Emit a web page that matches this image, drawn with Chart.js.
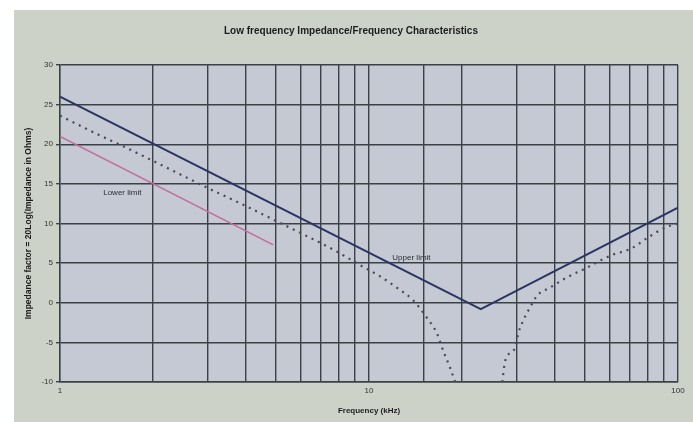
<!DOCTYPE html>
<html>
<head>
<meta charset="utf-8">
<script src="https://cdn.jsdelivr.net/npm/chart.js@4"></script>
<style>
  html, body { margin: 0; padding: 0; background: #ffffff; }
  #wrap { width: 693px; height: 422px; }
</style>
</head>
<body>
<div id="wrap"><canvas id="impedanceChart" width="693" height="422"></canvas></div>
<script>
// values (frequency in kHz, impedance factor)
const upperFreq = [1, 23, 100];
const upperVal = [26, -0.8, 12];

const lowerFreq = [1, 4.9];
const lowerVal = [21, 7.3];

const dotLeftFreq = [1, 1.3, 1.65, 2, 2.6, 3, 3.9, 4.9, 6.3, 7.5, 8.5, 9.6, 10.9, 12.3, 13.9, 15.4, 16.6, 17.4, 18.3, 19];
const dotLeftVal = [23.6, 21.4, 19.5, 17.9, 15.7, 14.5, 12.4, 10.5, 8.4, 6.9, 5.7, 4.5, 3.3, 1.9, 0.3, -1.9, -3.9, -6.1, -8.2, -10];

const dotRightFreq = [27, 27.6, 29.7, 30.4, 31.5, 33.2, 35, 38.5, 43.7, 50, 60, 71, 79, 91, 100];
const dotRightVal = [-10, -7.3, -5.7, -3.9, -2.3, -0.6, 0.9, 1.9, 3.2, 4.3, 5.9, 6.9, 8.1, 9.5, 10];

const xTickLabels = [1, 10, 100];
const yMin = -10, yMax = 30, yStep = 5;

function pts(xs, ys) {
    return xs.map(function(x, i) { return { x: x, y: ys[i] }; });
}

const backdrop = {
    id: 'backdrop',
    beforeDraw: function(chart) {
        const c = chart.ctx;
        const a = chart.chartArea;
        c.save();
        c.fillStyle = '#ffffff';
        c.fillRect(0, 0, chart.width, chart.height);
        c.fillStyle = '#cdd2c9';
        c.fillRect(14, 10, chart.width - 14, chart.height - 10);
        c.fillStyle = '#c4c9d3';
        c.fillRect(a.left, a.top, a.right - a.left, a.bottom - a.top);
        c.restore();
    }
};

const limitLabels = {
    id: 'limitLabels',
    afterDatasetsDraw: function(chart) {
        const c = chart.ctx;
        const x = chart.scales.x, y = chart.scales.y;
        c.save();
        c.font = '8px "Liberation Sans", Arial, sans-serif';
        c.fillStyle = '#2b2f36';
        c.textBaseline = 'middle';
        c.fillText('Lower limit', x.getPixelForValue(1.38), y.getPixelForValue(13.9));
        c.fillText('Upper limit', x.getPixelForValue(11.9), y.getPixelForValue(5.7));
        c.restore();
    }
};

const ctx = document.getElementById('impedanceChart').getContext('2d');

new Chart(ctx, {
    type: 'line',
    data: {
        datasets: [
            {
                label: 'Upper limit',
                data: pts(upperFreq, upperVal),
                borderColor: '#2c3562',
                borderWidth: 2,
                pointRadius: 0,
                tension: 0
            },
            {
                label: 'Lower limit',
                data: pts(lowerFreq, lowerVal),
                borderColor: '#c56a9c',
                borderWidth: 1.5,
                pointRadius: 0,
                tension: 0
            },
            {
                label: 'Typical',
                data: pts(dotLeftFreq, dotLeftVal),
                borderColor: '#454a54',
                borderWidth: 2.2,
                borderDash: [2, 5],
                pointRadius: 0,
                cubicInterpolationMode: 'monotone'
            },
            {
                label: 'Typical (high)',
                data: pts(dotRightFreq, dotRightVal),
                borderColor: '#454a54',
                borderWidth: 2.2,
                borderDash: [2, 5],
                pointRadius: 0,
                cubicInterpolationMode: 'monotone'
            }
        ]
    },
    options: {
        responsive: false,
        animation: false,
        layout: { padding: { left: 24, right: 15, top: 10, bottom: 0 } },
        plugins: {
            legend: { display: false },
            tooltip: { enabled: false },
            title: {
                display: true,
                text: 'Low frequency Impedance/Frequency Characteristics',
                color: '#1c1c1c',
                font: { family: '"Liberation Sans", Arial, sans-serif', size: 10, weight: 'bold', lineHeight: 1.2 },
                padding: { top: 15, bottom: 28 }
            }
        },
        scales: {
            x: {
                type: 'logarithmic',
                min: 1,
                max: 100,
                afterFit: function(s) { s.height = 40; },
                grid: { color: '#3b4247', lineWidth: 1.4, drawTicks: false },
                border: { color: '#3b4247', width: 1.4 },
                ticks: {
                    autoSkip: false,
                    maxRotation: 0,
                    padding: 4,
                    color: '#333',
                    font: { family: '"Liberation Sans", Arial, sans-serif', size: 8 },
                    callback: function(v) {
                        return xTickLabels.indexOf(v) >= 0 ? String(v) : '';
                    }
                },
                title: {
                    display: true,
                    text: 'Frequency (kHz)',
                    color: '#1c1c1c',
                    font: { family: '"Liberation Sans", Arial, sans-serif', size: 8, weight: 'bold' },
                    padding: { top: 2, bottom: 6 }
                }
            },
            y: {
                min: yMin,
                max: yMax,
                afterFit: function(s) { s.width = 36; },
                grid: { color: '#3b4247', lineWidth: 1.4, drawTicks: true, tickLength: 4 },
                border: { color: '#3b4247', width: 1.4 },
                ticks: {
                    stepSize: yStep,
                    padding: 3,
                    color: '#333',
                    font: { family: '"Liberation Sans", Arial, sans-serif', size: 8 }
                },
                title: {
                    display: true,
                    text: 'Impedance factor = 20Log(Impedance in Ohms)',
                    color: '#1c1c1c',
                    font: { family: '"Liberation Sans", Arial, sans-serif', size: 8.5, weight: 'bold' },
                    padding: { top: 0, bottom: 2 }
                }
            }
        }
    },
    plugins: [backdrop, limitLabels]
});
</script>
</body>
</html>
